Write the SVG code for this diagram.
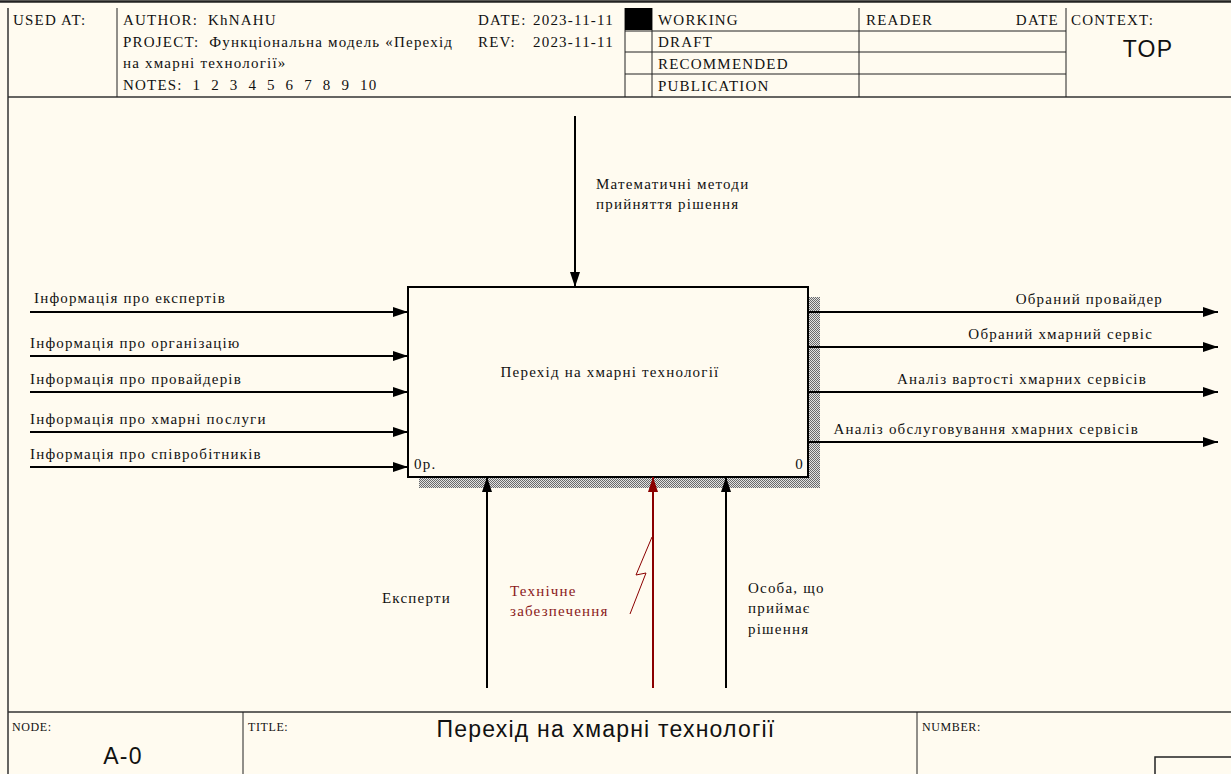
<svg xmlns="http://www.w3.org/2000/svg" width="1231" height="774" viewBox="0 0 1231 774" xml:space="preserve">
<style>
text{white-space:pre}
.t{font-family:"Liberation Serif","Times New Roman",serif;font-size:15px;fill:#111;letter-spacing:1.2px}
.s{font-family:"Liberation Serif","Times New Roman",serif;font-size:12px;fill:#111;letter-spacing:0.6px}
.a{font-family:"Liberation Sans",Arial,sans-serif;font-size:23px;fill:#111;letter-spacing:1.2px}
.r{fill:#8b1a1a}
.fr{stroke:#333;stroke-width:1.5;fill:none}
.fl{stroke:#222;stroke-width:1;fill:none}
.ar{stroke:#000;stroke-width:2;fill:none}
.rd{stroke:#8b0000;stroke-width:2;fill:none}
</style>
<defs>
<marker id="ah" markerUnits="userSpaceOnUse" markerWidth="16" markerHeight="12" viewBox="0 0 16 12" refX="15" refY="6" orient="auto">
<path d="M0,1 L15,6 L0,11 Z" fill="#000"/>
</marker>
<marker id="ahr" markerUnits="userSpaceOnUse" markerWidth="16" markerHeight="12" viewBox="0 0 16 12" refX="15" refY="6" orient="auto">
<path d="M0,1 L15,6 L0,11 Z" fill="#8b0000"/>
</marker>
<pattern id="hatch" width="2" height="2" patternUnits="userSpaceOnUse">
<rect width="2" height="2" fill="#e2e2e2"/>
<rect width="1" height="1" fill="#6a6a6a"/>
<rect x="1" y="1" width="1" height="1" fill="#6a6a6a"/>
</pattern>
</defs>
<rect width="1231" height="774" fill="#fffbf0"/>

<g id="frame">
<line x1="0" y1="1.5" x2="1231" y2="1.5" stroke="#222" stroke-width="2.5"/>
<line class="fr" x1="8" y1="8" x2="8" y2="774"/>
<line class="fr" x1="8" y1="97" x2="1231" y2="97"/>
<line class="fl" x1="117" y1="8" x2="117" y2="97"/>
<line class="fl" x1="625" y1="8" x2="625" y2="97"/>
<line class="fl" x1="652" y1="8" x2="652" y2="97"/>
<line class="fl" x1="859" y1="8" x2="859" y2="97"/>
<line class="fl" x1="1066" y1="8" x2="1066" y2="97"/>
<line class="fl" x1="625" y1="31" x2="1066" y2="31"/>
<line class="fl" x1="625" y1="52" x2="1066" y2="52"/>
<line class="fl" x1="625" y1="74" x2="1066" y2="74"/>
<rect x="625" y="8" width="27" height="22" fill="#000"/>
<text class="t" x="13" y="25">USED AT:</text>
<text class="t" x="123" y="25">AUTHOR:  KhNAHU</text>
<text class="t" x="123" y="47">PROJECT:  Функціональна модель «Перехід</text>
<text class="t" x="123" y="68">на хмарні технології»</text>
<text class="t" x="123" y="90">NOTES:  1  2  3  4  5  6  7  8  9  10</text>
<text class="t" x="478" y="25">DATE:</text>
<text class="t" x="533" y="25">2023-11-11</text>
<text class="t" x="478" y="47">REV:</text>
<text class="t" x="533" y="47">2023-11-11</text>
<text class="t" x="658" y="25">WORKING</text>
<text class="t" x="658" y="47">DRAFT</text>
<text class="t" x="658" y="69">RECOMMENDED</text>
<text class="t" x="658" y="91">PUBLICATION</text>
<text class="t" x="866" y="25">READER</text>
<text class="t" x="1059" y="25" text-anchor="end">DATE</text>
<text class="t" x="1071" y="25">CONTEXT:</text>
<text class="a" x="1148" y="57" text-anchor="middle">TOP</text>

<line class="fr" x1="8" y1="712" x2="1231" y2="712"/>
<line class="fl" x1="243" y1="712" x2="243" y2="774"/>
<line class="fl" x1="917" y1="712" x2="917" y2="774"/>
<polyline points="1155,774 1155,757 1231,757" stroke="#222" stroke-width="1.5" fill="none"/>
<text class="s" x="12" y="731">NODE:</text>
<text class="a" x="123" y="764" text-anchor="middle">A-0</text>
<text class="s" x="248" y="731">TITLE:</text>
<text class="a" x="606" y="737" text-anchor="middle">Перехід на хмарні технології</text>
<text class="s" x="922" y="731">NUMBER:</text>
</g>

<g id="node-A0">
<rect x="419" y="297" width="401" height="191" fill="url(#hatch)"/>
<rect x="408" y="287" width="400" height="190" fill="#fffbf0" stroke="#000" stroke-width="2"/>
<text class="t" x="610" y="377" text-anchor="middle">Перехід на хмарні технології</text>
<text class="t" x="414" y="469">0р.</text>
<text class="t" x="804" y="469" text-anchor="end">0</text>
</g>

<g id="connectors">
<line class="ar" x1="575" y1="116" x2="575" y2="287" marker-end="url(#ah)"/>
<line class="ar" x1="30" y1="312" x2="408" y2="312" marker-end="url(#ah)"/>
<line class="ar" x1="30" y1="356" x2="408" y2="356" marker-end="url(#ah)"/>
<line class="ar" x1="30" y1="392" x2="408" y2="392" marker-end="url(#ah)"/>
<line class="ar" x1="30" y1="432" x2="408" y2="432" marker-end="url(#ah)"/>
<line class="ar" x1="30" y1="467" x2="408" y2="467" marker-end="url(#ah)"/>
<line class="ar" x1="808" y1="312" x2="1218" y2="312" marker-end="url(#ah)"/>
<line class="ar" x1="808" y1="347" x2="1218" y2="347" marker-end="url(#ah)"/>
<line class="ar" x1="808" y1="392" x2="1218" y2="392" marker-end="url(#ah)"/>
<line class="ar" x1="808" y1="442" x2="1218" y2="442" marker-end="url(#ah)"/>
<line class="ar" x1="487" y1="688" x2="487" y2="477" marker-end="url(#ah)"/>
<line class="rd" x1="653" y1="688" x2="653" y2="477" marker-end="url(#ahr)"/>
<line class="ar" x1="726" y1="688" x2="726" y2="477" marker-end="url(#ah)"/>
<polyline points="630,614 646,573 636,575 652,537" stroke="#8b0000" stroke-width="1" fill="none"/>

<text class="t" x="596" y="189">Математичні методи</text>
<text class="t" x="596" y="209">прийняття рішення</text>
<text class="t" x="34" y="303">Інформація про експертів</text>
<text class="t" x="30" y="348">Інформація про організацію</text>
<text class="t" x="30" y="384">Інформація про провайдерів</text>
<text class="t" x="30" y="424">Інформація про хмарні послуги</text>
<text class="t" x="30" y="459">Інформація про співробітників</text>
<text class="t" x="1163" y="304" text-anchor="end">Обраний провайдер</text>
<text class="t" x="1153" y="339" text-anchor="end">Обраний хмарний сервіс</text>
<text class="t" x="1147" y="384" text-anchor="end">Аналіз вартості хмарних сервісів</text>
<text class="t" x="1139" y="434" text-anchor="end">Аналіз обслуговування хмарних сервісів</text>
<text class="t" x="382" y="603">Експерти</text>
<text class="t r" x="510" y="596">Технічне</text>
<text class="t r" x="510" y="616">забезпечення</text>
<text class="t" x="748" y="593">Особа, що</text>
<text class="t" x="748" y="613">приймає</text>
<text class="t" x="748" y="634">рішення</text>
</g>
</svg>
